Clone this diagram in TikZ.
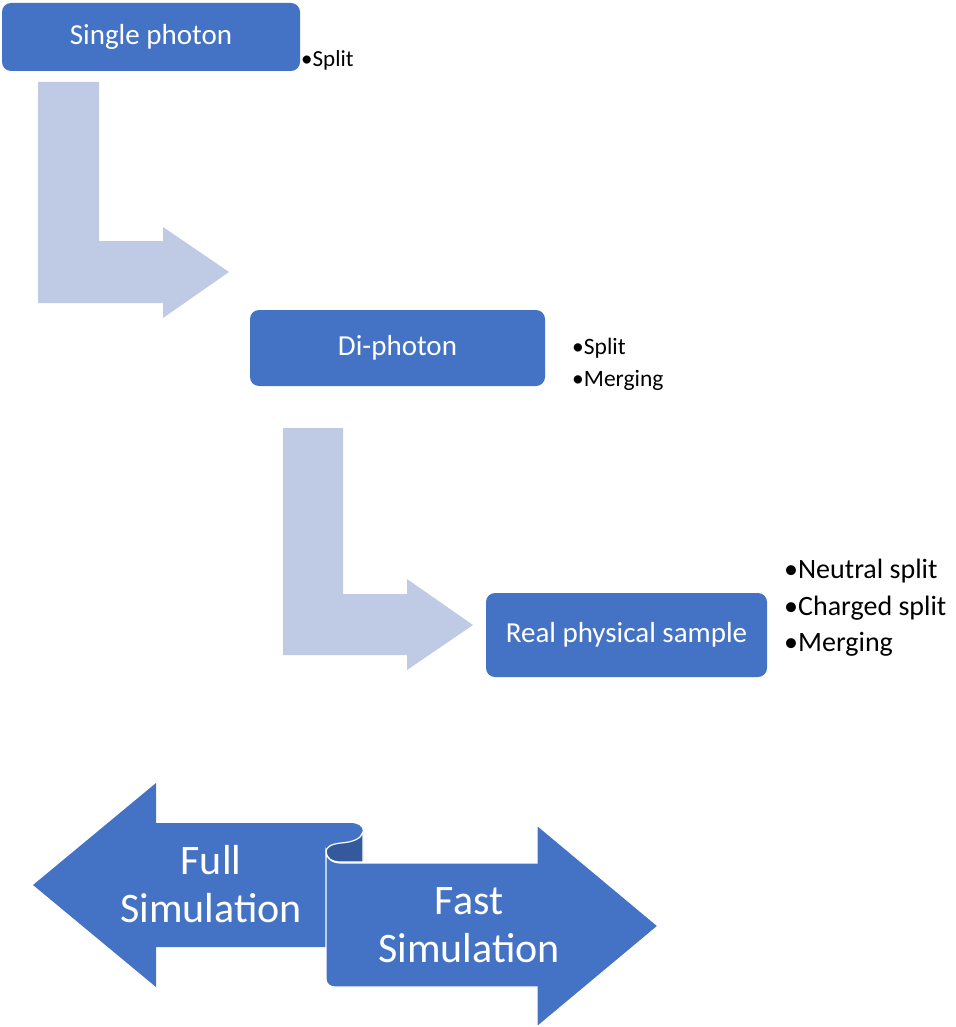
\documentclass[tikz,border=0pt]{standalone}
\usepackage{fontspec}
\setmainfont{Carlito}
\definecolor{boxblue}{RGB}{68,114,196}
\definecolor{lightarrow}{RGB}{191,202,228}
\definecolor{curldark}{RGB}{52,89,156}
\begin{document}
\begin{tikzpicture}[x=1pt,y=-1pt,
  box/.style={fill=boxblue, draw=none, rounded corners=9pt, inner sep=0pt, text=white,
    font=\fontsize{29}{34}\selectfont},
  bentarrow/.style={fill=lightarrow, draw=none},
  bigarrow/.style={fill=boxblue, draw=none},
  bullets/.style={anchor=west, inner sep=0pt, align=left, text=black},
  simtext/.style={text=white, align=center, inner sep=0pt, font=\fontsize{42}{48}\selectfont}]
\useasboundingbox (0,0) rectangle (955,1027);

% boxes
\node[box, minimum width=298pt, minimum height=68pt] (single) at (151,37) {Single photon};
\node[box, minimum width=295pt, minimum height=76pt] (di) at (397.5,348) {Di-photon};
\node[box, minimum width=281pt, minimum height=84pt] (real) at (626.5,635) {Real physical sample};

% bullet lists
\node[bullets, font=\fontsize{23}{32}\selectfont] (b1) at (301,60) {•Split};
\node[bullets, font=\fontsize{23.5}{32}\selectfont] (b2) at (572,364) {•Split\\•Merging};
\node[bullets, font=\fontsize{28}{36.5}\selectfont] (b3) at (784,608) {•Neutral split\\•Charged split\\•Merging};

% bent arrows
\fill[bentarrow] (38,82) -- (99,82) -- (99,241) -- (163,241) -- (163,227) -- (229,272)
  -- (163,318) -- (163,303) -- (38,303) -- cycle;
\fill[bentarrow] (283,428) -- (343,428) -- (343,594) -- (407,594) -- (407,579) -- (473,625)
  -- (407,670) -- (407,655) -- (283,655) -- cycle;

% left arrow (Full Simulation)
\fill[bigarrow] (33,885) -- (156,783) -- (156,823) -- (350,823)
  .. controls (358,823) and (363,826) .. (363,832) -- (363,862) -- (327,862)
  -- (327,947) -- (156,947) -- (156,987) -- cycle;
% curl
\filldraw[fill=curldark, draw=white, line width=1.2pt] (363,832)
  .. controls (361,839) and (353,842) .. (341,843)
  .. controls (331,844) and (326,847) .. (326,852)
  .. controls (326,858) and (332,862) .. (341,862) -- (363,862) -- cycle;
% right arrow (Fast Simulation)
\filldraw[fill=boxblue, draw=white, line width=1.2pt] (326,852) -- (326,979)
  .. controls (326,984) and (330,987) .. (335,987) -- (537,987) -- (537,1027)
  -- (658,926) -- (537,825) -- (537,863) -- (341,863)
  .. controls (332,863) and (326,858) .. (326,852) -- cycle;

\node[simtext] (full) at (211,884) {Full\\Simulation};
\node[simtext] (fast) at (469,925) {Fast\\Simulation};
\end{tikzpicture}
\end{document}
